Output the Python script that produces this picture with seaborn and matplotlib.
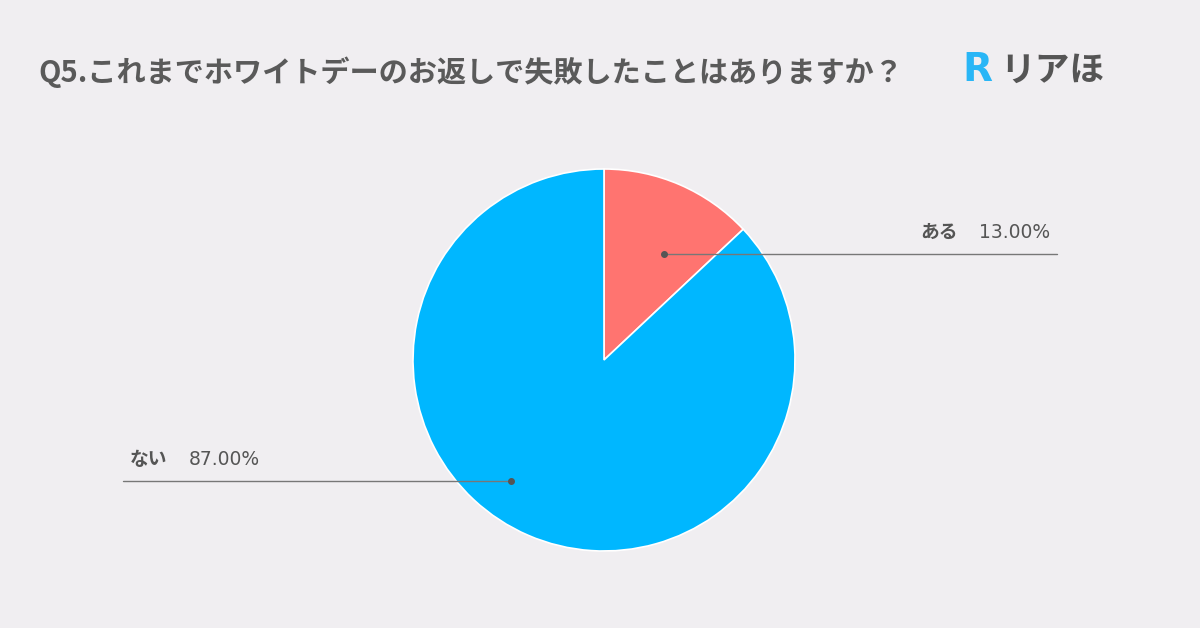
import numpy as np
import matplotlib
matplotlib.use('Agg')
import matplotlib.pyplot as plt
import seaborn as sns

# data
labels = ['ある', 'ない']
shares = [13.00, 87.00]
colors = ['#ff7470', '#00b7ff']
title = 'Q5.これまでホワイトデーのお返しで失敗したことはありますか？'

sns.set_theme(style='white')
plt.rcParams['font.family'] = ['Noto Sans CJK JP', 'DejaVu Sans']

W, H = 1200, 628
bg = '#f0eef1'
fig = plt.figure(figsize=(12, 6.28), dpi=100, facecolor=bg)
ax = fig.add_axes([0, 0, 1, 1])
ax.set_facecolor(bg)

cx, cy, R = 604, H - 360, 191
wedges, _ = ax.pie(shares, colors=colors, startangle=90, counterclock=False,
                   center=(cx, cy), radius=R, frame=True,
                   wedgeprops=dict(edgecolor='white', linewidth=1.2))
ax.set_xlim(0, W)
ax.set_ylim(0, H)
ax.set_aspect('equal')
ax.axis('off')

# leader lines
line_col = '#777777'
txt_col = '#555555'
ends = [(1057, 'right'), (123, 'left')]
rfrac = [0.64, 0.8]
offs = [-6, -14]
for w, lab, val, (xend, side), rf, off in zip(wedges, labels, shares, ends, rfrac, offs):
    mid = np.deg2rad((w.theta1 + w.theta2) / 2 + off)
    px = cx + rf * R * np.cos(mid)
    py = cy + rf * R * np.sin(mid)
    ax.plot([px, xend], [py, py], color=line_col, lw=1)
    ax.plot(px, py, 'o', color='#555555', ms=4)
    tx = 920 if side == 'right' else 130
    ax.text(tx, py + 12, lab, fontsize=13.5, fontweight='bold', color=txt_col,
            va='bottom', ha='left')
    ax.text(tx + 59, py + 12, f'{val:.2f}%', fontsize=13.5, color=txt_col,
            va='bottom', ha='left', family=['DejaVu Sans'])

# title and logo
fig.text(38 / W, 1 - 72 / H, title, fontsize=21, fontweight='bold', color='#5a5a5a',
         va='center', ha='left')
fig.text(962 / W, 1 - 70 / H, 'R', fontsize=28, fontweight='heavy', color='#29b6f6',
         va='center', ha='left', family=['DejaVu Sans'])
fig.text(1000 / W, 1 - 70 / H, 'リアほ', fontsize=25, fontweight='bold', color='#555555',
         va='center', ha='left')

fig.savefig('out.png', dpi=100, facecolor=bg)
